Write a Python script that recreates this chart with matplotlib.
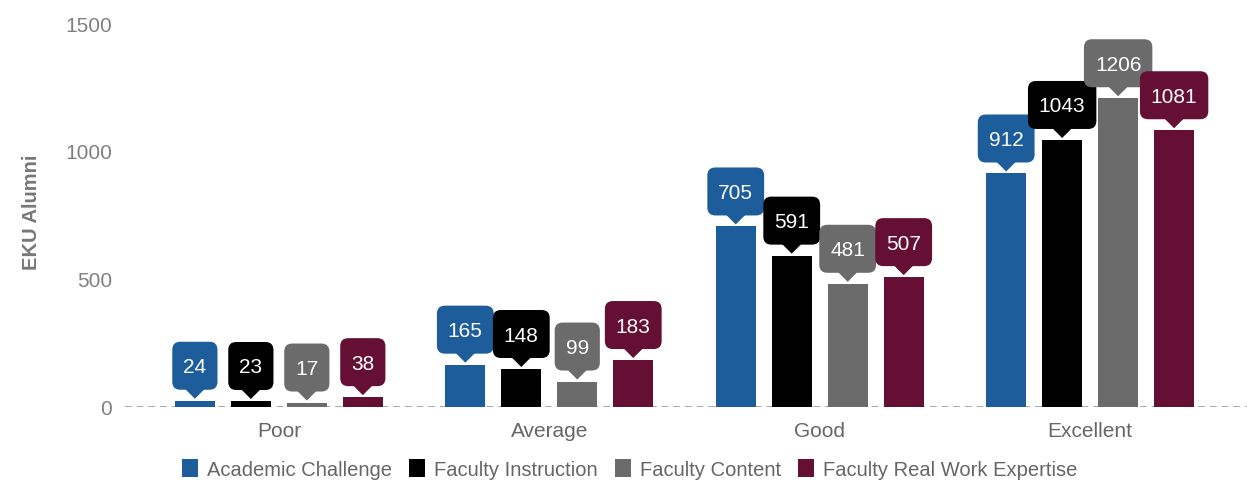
import numpy as np
import matplotlib.pyplot as plt
from matplotlib.patches import FancyBboxPatch, Polygon
from matplotlib.transforms import IdentityTransform

plt.rcParams['font.family'] = ['Liberation Sans', 'DejaVu Sans']

categories = ['Poor', 'Average', 'Good', 'Excellent']
series = ['Academic Challenge', 'Faculty Instruction', 'Faculty Content',
          'Faculty Real Work Expertise']
academic = [24, 165, 705, 912]
instruction = [23, 148, 591, 1043]
content = [17, 99, 481, 1206]
realwork = [38, 183, 507, 1081]
colors = ['#1d5d9b', '#000000', '#6b6b6b', '#650f35']

values = [academic, instruction, content, realwork]

fig = plt.figure(figsize=(12.47, 4.85), dpi=100)
ax = fig.add_axes([0.1, 0.159, 0.9, 0.7915])

x = np.arange(len(categories))
width = 0.148
step = 0.207

ax.set_xlim(-0.57, 3.58)
ax.set_ylim(0, 1500)

for i, (name, vals, c) in enumerate(zip(series, values, colors)):
    xs = x + (i - 1.5) * step
    ax.bar(xs, vals, width=width, color=c, label=name, zorder=2)

# callouts drawn in pixel space above each bar top
px_transform = IdentityTransform()
for i, (vals, c) in enumerate(zip(values, colors)):
    xs = x + (i - 1.5) * step
    for xi, v in zip(xs, vals):
        px, py = ax.transData.transform((xi, v))
        label = str(v)
        bw = 22 + 11.6 * len(label)
        bh = 48
        y0 = py + 11
        box = FancyBboxPatch((px - bw / 2, y0), bw, bh,
                             boxstyle='round,pad=0,rounding_size=8',
                             fc=c, ec='none', transform=px_transform, zorder=4)
        tip = Polygon([(px - 10, y0 + 1), (px + 10, y0 + 1), (px, py + 2)],
                      closed=True, fc=c, ec='none', transform=px_transform, zorder=4)
        fig.add_artist(box)
        fig.add_artist(tip)
        fig.text(px, y0 + bh / 2 - 1, label, transform=px_transform, ha='center',
                 va='center', color='white', fontsize=15, zorder=5)

ax.axhline(0, color='#999999', lw=1.2, ls=(0, (4, 3)), zorder=1)
ax.set_yticks([0, 500, 1000, 1500])
ax.set_xticks(x)
ax.set_xticklabels(categories)
ax.tick_params(length=0, labelsize=15)
ax.tick_params(axis='y', pad=9, labelcolor='#808080')
ax.tick_params(axis='x', pad=10, labelcolor='#666666')
for s in ax.spines.values():
    s.set_visible(False)
ax.set_ylabel('EKU Alumni', color='#777777', fontsize=14.5, fontweight='bold', labelpad=0)
ax.yaxis.set_label_coords(-0.0745, 0.51)

fig.legend(*ax.get_legend_handles_labels(), loc='center', bbox_to_anchor=(0.505, 0.031),
           ncol=4, frameon=False, fontsize=14.5, labelcolor='#666666',
           handlelength=0.8, handleheight=1.0, handletextpad=0.45, columnspacing=0.85)

fig.savefig('out.png', dpi=100)
